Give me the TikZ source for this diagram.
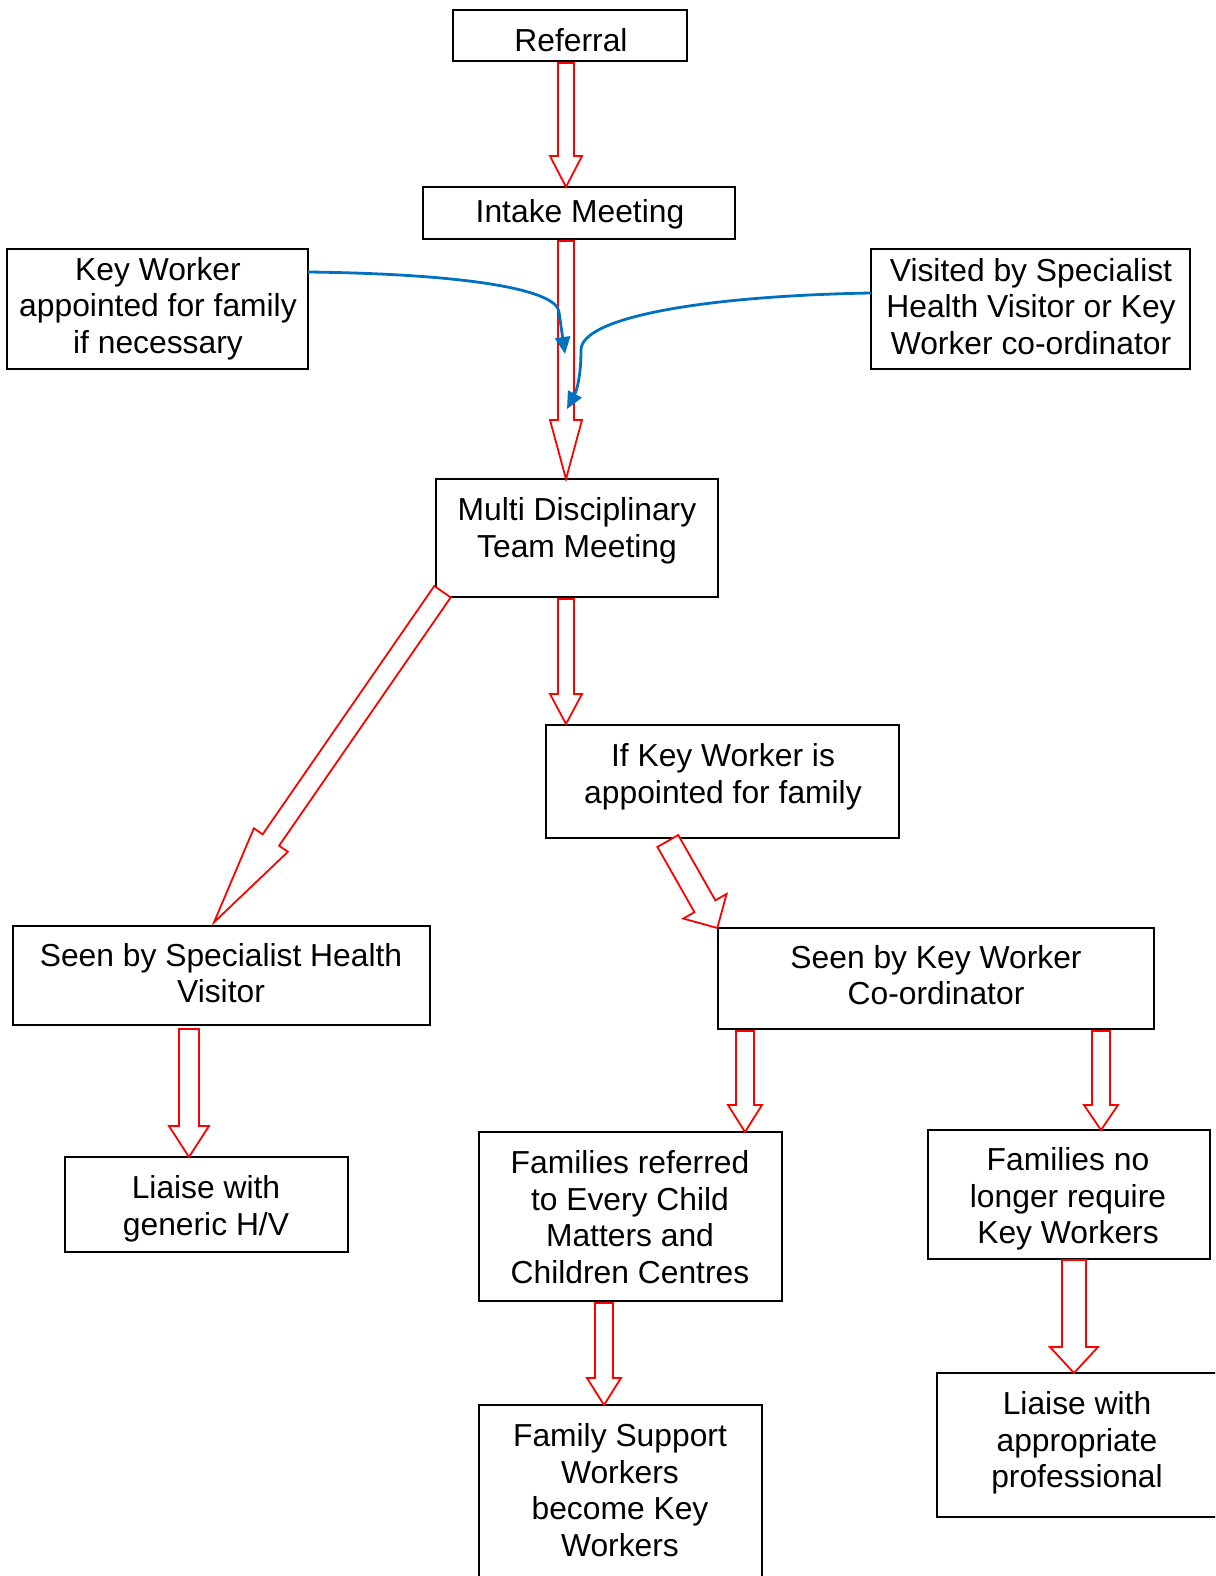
\documentclass[tikz,border=0pt]{standalone}
\usepackage{fontspec}
\setmainfont{Liberation Sans}
\usetikzlibrary{arrows.meta,calc}
\definecolor{arrowblue}{RGB}{0,112,192}
\newcommand\blockarr[5]{%
  \path let \p1=($(#2)-(#1)$) in
    \pgfextra{\pgfmathsetmacro\baL{veclen(\x1,\y1)}%
      \pgfmathsetmacro\baA{atan2(\y1,\x1)}%
      \global\let\baL\baL\global\let\baA\baA};
  \draw[redblock,shift={(#1)},rotate=\baA]
    (0pt,-#3pt) -- ({\baL pt-#5pt},-#3pt) -- ({\baL pt-#5pt},-#4pt) -- (\baL pt,0pt)
    -- ({\baL pt-#5pt},#4pt) -- ({\baL pt-#5pt},#3pt) -- (0pt,#3pt) -- cycle;
}
\begin{document}
\begin{tikzpicture}[x=1pt,y=-1pt,
  box/.style 2 args={draw=black,line width=1.6pt,inner sep=0pt,outer sep=0pt,minimum width=#1,minimum height=#2},
  txt/.style={align=center,inner sep=0pt,font=\fontsize{31.8}{36.5}\selectfont},
  redblock/.style={draw=red,line width=1.8pt,line join=miter,fill=white},
  bluearrow/.style={draw=arrowblue,line width=2.8pt,-{Triangle[length=17pt,width=15pt]}}]
\useasboundingbox (0,0) rectangle (1215,1576);
\clip (0,0) rectangle (1215,1576);
% boxes
\node[box={234pt}{51pt}] (ref) at (570,35.5) {};
\node[box={312pt}{52pt}] (intake) at (579,213) {};
\node[box={301pt}{120pt}] (kw) at (157.5,309) {};
\node[box={319pt}{120pt}] (vis) at (1030.5,309) {};
\node[box={282pt}{118pt}] (mdt) at (577,538) {};
\node[box={353pt}{113pt}] (ifkw) at (722.5,781.5) {};
\node[box={417pt}{99pt}] (shv) at (221.5,975.5) {};
\node[box={436pt}{101pt}] (kwc) at (936,978.5) {};
\node[box={283pt}{95pt}] (lia1) at (206.5,1204.5) {};
\node[box={303pt}{169pt}] (fam) at (630.5,1216.5) {};
\node[box={282pt}{129pt}] (famno) at (1069,1194.5) {};
\node[box={283pt}{175pt}] (fsw) at (620.5,1492.5) {};
\node[box={280pt}{144pt}] (lia2) at (1077,1445) {};
% texts
\node[txt] (t1) at (571,40) {Referral};
\node[txt] (t2) at (580,214) {Intake Meeting};
\node[txt] (t3) at (158,308.5) {Key Worker\\appointed for family\\if necessary};
\node[txt] (t4) at (1031,306.5) {Visited by Specialist\\Health Visitor or Key\\Worker co-ordinator};
\node[txt] (t5) at (577,531) {Multi Disciplinary\\Team Meeting};
\node[txt] (t6) at (723,777) {If Key Worker is\\appointed for family};
\node[txt] (t7) at (221,973) {Seen by Specialist Health\\Visitor};
\node[txt] (t8) at (936,975) {Seen by Key Worker\\Co-ordinator};
\node[txt] (t9) at (206,1209) {Liaise with\\generic H/V};
\node[txt] (t10) at (630,1217) {Families referred\\to Every Child\\Matters and\\Children Centres};
\node[txt] (t11) at (1068,1199) {Families no\\longer require\\Key Workers};
\node[txt] (t12) at (620,1490) {Family Support\\Workers\\become Key\\Workers};
\node[txt] (t13) at (1077,1443) {Liaise with\\appropriate\\professional};
% arrow ends
\coordinate (a1s) at ([xshift=-4pt,yshift=-2pt]ref.south);
\coordinate (a1e) at ([xshift=-13pt]intake.north);
\coordinate (a2s) at ([xshift=-13pt,yshift=-2pt]intake.south);
\coordinate (a2e) at ([xshift=-11pt]mdt.north);
\coordinate (a3s) at ([xshift=-11pt,yshift=-2pt]mdt.south);
\coordinate (a3e) at ([xshift=20pt,yshift=1pt]ifkw.north west);
\coordinate (a4s) at ([xshift=6.5pt,yshift=5.3pt]mdt.south west);
\coordinate (a4e) at ([xshift=-7.5pt,yshift=3.7pt]shv.north);
\coordinate (a5s) at ([xshift=-54.7pt,yshift=-3pt]ifkw.south);
\coordinate (a5e) at ([xshift=-0.7pt]kwc.north west);
\coordinate (a6s) at ([xshift=-32.5pt,yshift=-4pt]shv.south);
\coordinate (a6e) at ([xshift=-17.5pt]lia1.north);
\coordinate (a7s) at ([xshift=27pt,yshift=-2pt]kwc.south west);
\coordinate (a7e) at ([xshift=-37pt]fam.north east);
\coordinate (a8s) at ([xshift=-53pt,yshift=-2pt]kwc.south east);
\coordinate (a8e) at ([xshift=32pt]famno.north);
\coordinate (a9s) at ([xshift=-26.5pt,yshift=-2pt]fam.south);
\coordinate (a9e) at ([xshift=-16.5pt]fsw.north);
\coordinate (a10s) at ([xshift=5pt,yshift=-1pt]famno.south);
\coordinate (a10e) at ([xshift=-3pt]lia2.north);
% red block arrows
\blockarr{a1s}{a1e}{8}{16}{31}
\blockarr{a2s}{a2e}{8}{16}{59}
\blockarr{a3s}{a3e}{8}{16}{30}
\blockarr{a4s}{a4e}{10}{20.7}{100}
\blockarr{a5s}{a5e}{12}{24.9}{25}
\blockarr{a6s}{a6e}{10}{20}{31}
\blockarr{a7s}{a7e}{9}{17}{27}
\blockarr{a8s}{a8e}{9}{17}{25}
\blockarr{a9s}{a9e}{9}{17}{27}
\blockarr{a10s}{a10e}{12}{24}{26}
% blue arrows
\coordinate (b1s) at ([yshift=37pt]kw.east);
\coordinate (b1e) at (565,354);
\coordinate (b2s) at ([yshift=16pt]vis.west);
\coordinate (b2e) at (567,409);
\draw[bluearrow] (b1s) .. controls (470,274) and (557,290) .. (559,312) -- (b1e);
\draw[bluearrow] (b2s) .. controls (700,296) and (581,318) .. (581,350) .. controls (581,375) and (577,390) .. (b2e);
\end{tikzpicture}
\end{document}
